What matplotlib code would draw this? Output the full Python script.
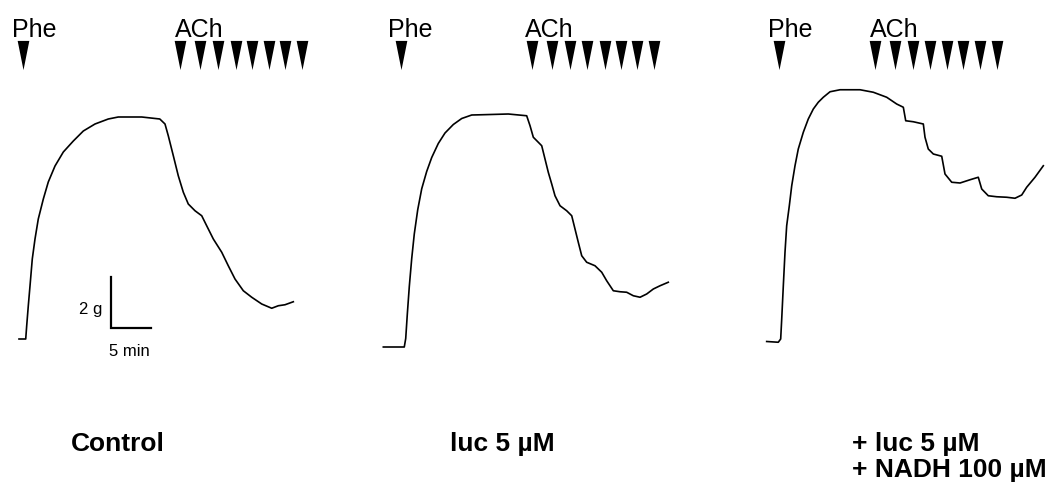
import matplotlib
matplotlib.use("Agg")
import matplotlib.pyplot as plt

plt.rcParams['font.family'] = ['Liberation Sans', 'DejaVu Sans']

# ---- data: time (min, relative to Phe addition) and tension (g above baseline)
ctrl_t = [-0.5, 0.34, 0.46, 0.66, 0.875, 1.16, 1.5, 1.91, 2.54, 3.16, 4.0, 5.04, 6.29,
          7.54, 9.0, 10.66, 11.91, 14.84, 17.1, 17.75, 18.16, 18.79, 19.41, 20.04,
          20.66, 21.5, 22.34, 22.96, 23.79, 24.84, 25.66, 26.5, 27.54, 28.59, 29.84,
          31.09, 31.91, 32.75, 33.79]
ctrl_g = [0, 0, 0.52, 1.32, 2.12, 3.2, 4.0, 4.8, 5.6, 6.28, 6.92, 7.48, 7.92,
          8.32, 8.6, 8.8, 8.88, 8.88, 8.8, 8.6, 8.13, 7.33, 6.53, 5.87,
          5.4, 5.13, 4.93, 4.53, 4.0, 3.47, 2.93, 2.4, 1.93, 1.67, 1.4,
          1.23, 1.33, 1.37, 1.49]
ctrl_ach = [19.6, 22.1, 24.4, 26.6, 28.6, 30.75, 32.75, 34.9]

luc_t = [-2.21, 0.41, 0.59, 0.79, 1.04, 1.34, 1.66, 2.09, 2.59, 3.21, 3.84, 4.66, 5.5,
         6.54, 7.59, 8.84, 10.09, 13.41, 15.71, 16.13, 16.54, 17.16, 17.59, 18.0,
         18.41, 18.84, 19.25, 19.88, 20.71, 21.34, 21.75, 22.16, 22.59, 23.21, 24.25,
         25.09, 25.71, 26.54, 27.38, 28.21, 29.04, 29.88, 30.71, 31.54, 32.38, 33.41]
luc_g = [0, 0, 0.34, 1.32, 2.43, 3.54, 4.52, 5.49, 6.33, 7.02, 7.58, 8.14, 8.56,
         8.9, 9.14, 9.28, 9.29, 9.32, 9.25, 8.85, 8.39, 8.19, 8.05, 7.52,
         6.99, 6.52, 6.05, 5.65, 5.45, 5.25, 4.72, 4.19, 3.65, 3.39, 3.25,
         2.99, 2.65, 2.25, 2.21, 2.19, 2.05, 1.99, 2.12, 2.32, 2.45, 2.59]
luc_ach = [16.375, 18.875, 21.125, 23.25, 25.5, 27.5, 29.5, 31.625]

nadh_t = [-1.54, -0.09, 0.21, 0.34, 0.54, 0.75, 0.96, 1.29, 1.59, 2.0, 2.41, 3.04, 3.66,
          4.29, 4.91, 5.54, 6.38, 7.63, 10.13, 11.79, 13.46, 14.71, 15.54, 15.84,
          16.79, 18.04, 18.25, 18.66, 19.29, 20.34, 20.75, 21.59, 22.63, 23.88, 24.91,
          25.34, 26.16, 27.21, 28.46, 29.5, 30.34, 30.96, 32.0, 33.04]
nadh_g = [0, -0.03, 0.1, 0.9, 2.23, 3.57, 4.63, 5.43, 6.23, 7.03, 7.7, 8.37, 8.9,
          9.3, 9.57, 9.77, 9.99, 10.07, 10.07, 9.97, 9.77, 9.5, 9.37, 8.83,
          8.79, 8.7, 8.17, 7.7, 7.5, 7.41, 6.7, 6.37, 6.34, 6.47, 6.57,
          6.1, 5.83, 5.79, 5.77, 5.73, 5.86, 6.17, 6.57, 7.03]
nadh_ach = [12.0, 14.5, 16.75, 18.875, 21.0, 23.0, 25.125, 27.25]

panel_labels = [["Control"], ["luc 5 µM"], ["+ luc 5 µM", "+ NADH 100 µM"]]
traces = [(ctrl_t, ctrl_g, ctrl_ach), (luc_t, luc_g, luc_ach), (nadh_t, nadh_g, nadh_ach)]

# ---- layout (pixels)
W, H = 1055, 485
PX_MIN, PX_G = 8.0, 25.0
panels = [  # left px, right px, Phe x px, baseline y px, Phe text x, ACh text x, label x
    (0, 350, 23, 340, 12, 175, 71),
    (350, 700, 401, 348, 388, 525, 450),
    (700, 1055, 779, 342.5, 768, 870, 852),
]

fig = plt.figure(figsize=(W / 100, H / 100), dpi=100)
arrow = [(-0.4, 1.0), (0.4, 1.0), (0.0, -1.0)]

for (xl, xr, xp, yb, phx, achx, labx), (t, g, ach), labs in zip(panels, traces, panel_labels):
    ax = fig.add_axes([xl / W, 0, (xr - xl) / W, 1])
    ax.set_xlim((xl - xp) / PX_MIN, (xr - xp) / PX_MIN)
    ax.set_ylim((yb - H) / PX_G, yb / PX_G)
    ax.axis('off')
    ax.plot(t, g, color='black', lw=1.2, solid_joinstyle='round')
    tr = ax.get_xaxis_transform()
    yfrac = 1 - 56 / H
    ax.plot([0], [yfrac], transform=tr, marker=arrow, ms=21, color='black', mew=0, ls='none')
    ax.plot(ach, [yfrac] * len(ach), transform=tr, marker=arrow, ms=21, color='black',
            mew=0, ls='none')
    fig.text(phx / W, 1 - 37 / H, "Phe", fontsize=18, ha='left', va='baseline')
    fig.text(achx / W, 1 - 37 / H, "ACh", fontsize=18, ha='left', va='baseline')
    for k, lab in enumerate(labs):
        fig.text(labx / W, 1 - (451 + 26 * k) / H, lab, fontsize=19, fontweight='bold',
                 ha='left', va='baseline')
    if xl == 0:
        # scale bar: 2 g, 5 min
        ax.plot([11.0, 11.0, 16.0], [2.48, 0.44, 0.44], color='black', lw=1.6,
                solid_joinstyle='miter')
        fig.text(102 / W, 1 - 314 / H, "2 g", fontsize=12, ha='right', va='baseline')
        fig.text(129 / W, 1 - 356 / H, "5 min", fontsize=12, ha='center', va='baseline')

fig.savefig("out.png", dpi=100, facecolor='white')
